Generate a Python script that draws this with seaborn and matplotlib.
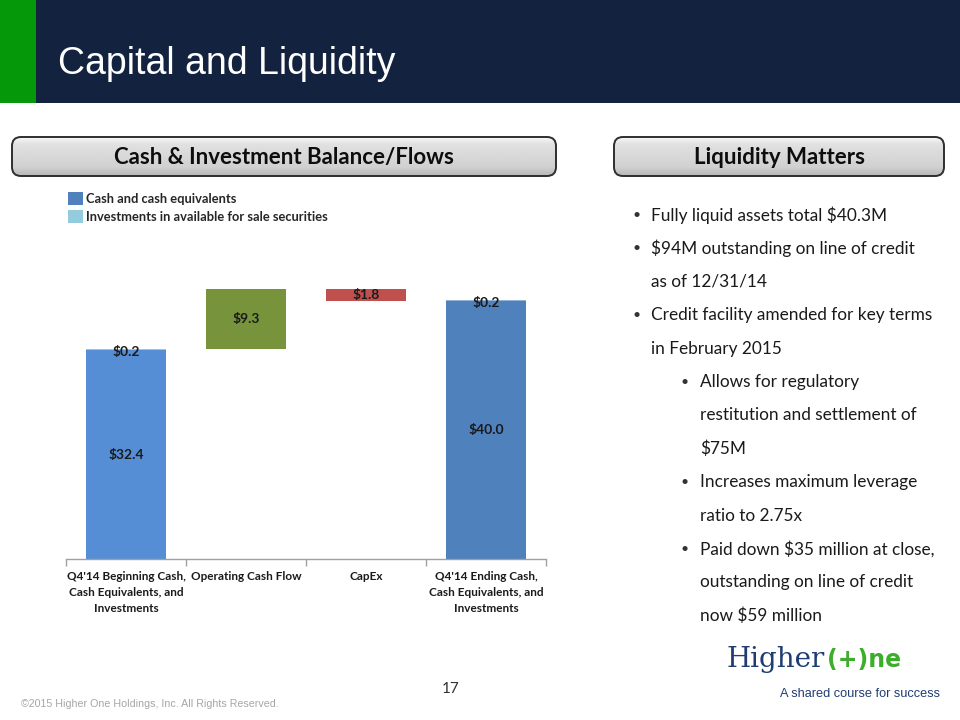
import matplotlib
matplotlib.use("Agg")
import matplotlib.pyplot as plt
import numpy as np
import pandas as pd
import seaborn as sns
from matplotlib.patches import FancyBboxPatch, Rectangle, Patch

# ---- data -------------------------------------------------------------------
categories = ["Q4'14 Beginning Cash,\nCash Equivalents, and\nInvestments",
              "Operating Cash Flow",
              "CapEx",
              "Q4'14 Ending Cash,\nCash Equivalents, and\nInvestments"]
cash = [32.4, 0, 0, 40.0]
investments = [0.2, 0, 0, 0.2]
flows = [0, 9.3, -1.8, 0]

legend_labels = ["Cash and cash equivalents",
                 "Investments in available for sale securities"]

liquidity_points = [
    (0, ["Fully liquid assets total $40.3M"]),
    (0, ["$94M outstanding on line of credit", "as of 12/31/14"]),
    (0, ["Credit facility amended for key terms", "in February 2015"]),
    (1, ["Allows for regulatory", "restitution and settlement of", "$75M"]),
    (1, ["Increases maximum leverage", "ratio to 2.75x"]),
    (1, ["Paid down $35 million at close,", "outstanding on line of credit",
         "now $59 million"]),
]

# ---- styles -----------------------------------------------------------------
NAVY = "#13233F"
GREEN = "#05990A"
cash_colors = ["#558ED5", "#558ED5", "#558ED5", "#4F81BD"]
inv_colors = ["#9DC3E6", "#9DC3E6", "#9DC3E6", "#95B3D7"]
flow_colors = ["#77933C", "#77933C", "#C0504D", "#77933C"]
BODY = "Lato"

sns.set_theme(style="white")
plt.rcParams["font.family"] = [BODY, "DejaVu Sans"]

W, H = 960, 720
fig = plt.figure(figsize=(9.6, 7.2), dpi=100)
fig.patch.set_facecolor("white")

# background axes in pixel coordinates (y down)
bg = fig.add_axes([0, 0, 1, 1], zorder=0)
bg.set_xlim(0, W)
bg.set_ylim(H, 0)
bg.axis("off")

# header band
bg.add_patch(Rectangle((0, 0), W, 103, color=NAVY, lw=0))
bg.add_patch(Rectangle((0, 0), 36, 103, color=GREEN, lw=0))
bg.text(58, 64, "Capital and Liquidity", color="white", fontsize=27,
        family="Liberation Sans", va="center", ha="left")


def section_box(x0, x1, y0, y1, label):
    box = FancyBboxPatch((x0, y0), x1 - x0, y1 - y0,
                         boxstyle="round,pad=0,rounding_size=9",
                         facecolor="none", edgecolor="#2E2E2E", lw=1.4, zorder=3)
    bg.add_patch(box)
    grad = np.concatenate([np.linspace(0.97, 0.88, 8),
                           np.linspace(0.88, 0.82, 22),
                           np.linspace(0.82, 0.72, 10)])[:, None]
    im = bg.imshow(grad, extent=(x0, x1, y1, y0), aspect="auto", cmap="gray",
                   vmin=0, vmax=1, zorder=2, interpolation="bilinear")
    im.set_clip_path(box)
    bg.text((x0 + x1) / 2, (y0 + y1) / 2 + 1, label, ha="center", va="center",
            fontsize=16, fontweight="bold", color="#0D0D0D", zorder=4)


section_box(12, 556, 137, 176, "Cash & Investment Balance/Flows")
section_box(614, 944, 137, 176, "Liquidity Matters")
bg.set_xlim(0, W)
bg.set_ylim(H, 0)

# bullets on the right
y = 215
step = 33.4
for level, lines in liquidity_points:
    bx, tx = (633, 651) if level == 0 else (681, 700)
    bg.text(bx, y, "\u2022", fontsize=10, va="center", ha="left", color="#333333")
    for line in lines:
        bg.text(tx, y, line, fontsize=12.4, va="center", ha="left", color="#1A1A1A")
        y += step

# footer
bg.text(21, 704, "\u00a92015 Higher One Holdings, Inc. All Rights Reserved.",
        family="Liberation Sans", fontsize=7.7, color="#A6A6A6", va="center")
bg.text(451, 689, "17", fontsize=11, color="#333333", va="center", ha="center")

# logo
bg.text(726, 667, "Higher", family="DejaVu Serif", fontsize=20, color="#1F3D73",
        va="baseline", ha="left")
bg.text(827, 667, "(+)ne", family="DejaVu Sans", fontsize=17, fontweight="bold",
        color="#3DAE2B", va="baseline", ha="left")
bg.text(940, 694, "A shared course for success", family="Liberation Sans",
        fontsize=9.2, color="#1F3D73", va="center", ha="right")

# ---- waterfall chart --------------------------------------------------------
ax_left, ax_right, ax_base, ymax = 66, 546, 559, 43.0
px_per_unit = 210 / 32.6
ax_top = ax_base - ymax * px_per_unit
ax = fig.add_axes([ax_left / W, (H - ax_base) / H, (ax_right - ax_left) / W,
                   (ax_base - ax_top) / H], zorder=1)
ax.patch.set_alpha(0)

# running totals for the floating bars
start = cash[0] + investments[0]
running = start
flow_bottom, flow_height = [], []
for f in flows:
    if f == 0:
        flow_bottom.append(0)
        flow_height.append(0)
    else:
        flow_bottom.append(min(running, running + f))
        flow_height.append(abs(f))
        running += f

df = pd.DataFrame({"category": categories, "cash": cash,
                   "investments": investments, "flow": flow_height,
                   "flow_bottom": flow_bottom})

layers = [("cash", [0] * 4, cash_colors),
          ("investments", cash, inv_colors),
          ("flow", flow_bottom, flow_colors)]
for col, bottom, colors in layers:
    n0 = len(ax.patches)
    sns.barplot(data=df, x="category", y=col, order=categories, bottom=bottom,
                color=colors[0], width=0.67, saturation=1, errorbar=None,
                linewidth=0, ax=ax)
    for p, c in zip(ax.patches[n0:], colors):
        p.set_facecolor(c)

# value labels at segment centers
lab = dict(ha="center", va="center", fontsize=10, fontweight="bold", color="#1A1A1A")
for i in range(len(categories)):
    if cash[i]:
        ax.text(i, cash[i] / 2, f"${cash[i]:.1f}", **lab)
    if investments[i]:
        ax.text(i, cash[i] + investments[i] / 2 - 0.35, f"${investments[i]:.1f}", **lab)
    if flows[i]:
        ax.text(i, flow_bottom[i] + flow_height[i] / 2, f"${abs(flows[i]):.1f}", **lab)

ax.set_xlim(-0.5, len(categories) - 0.5)
ax.set_ylim(0, ymax)
ax.set_xlabel("")
ax.set_ylabel("")
ax.set_yticks([])
for s in ["top", "right", "left"]:
    ax.spines[s].set_visible(False)
ax.spines["bottom"].set_color("#A0A0A0")
ax.spines["bottom"].set_linewidth(1)
ax.set_xticks(range(len(categories)))
ax.set_xticklabels(categories, fontsize=8.5, fontweight="bold", color="#1A1A1A",
                   linespacing=1.5)
ax.tick_params(axis="x", which="major", length=0, pad=9)
ax.set_xticks(np.arange(-0.5, len(categories)), minor=True)
ax.tick_params(axis="x", which="minor", length=5, width=1, color="#A0A0A0",
               direction="out", bottom=True)

# legend
handles = [Patch(facecolor="#4F81BD", edgecolor="none"),
           Patch(facecolor="#93CDDD", edgecolor="none")]
fig.legend(handles, legend_labels, loc="upper left",
           bbox_to_anchor=(60 / W, 1 - 184 / H), frameon=False,
           handlelength=1.15, handleheight=1.15, handletextpad=0.3,
           labelspacing=0.42, borderaxespad=0.2,
           prop={"size": 9.3, "weight": "bold", "family": BODY})

fig.savefig("out.png", dpi=100, facecolor="white")
